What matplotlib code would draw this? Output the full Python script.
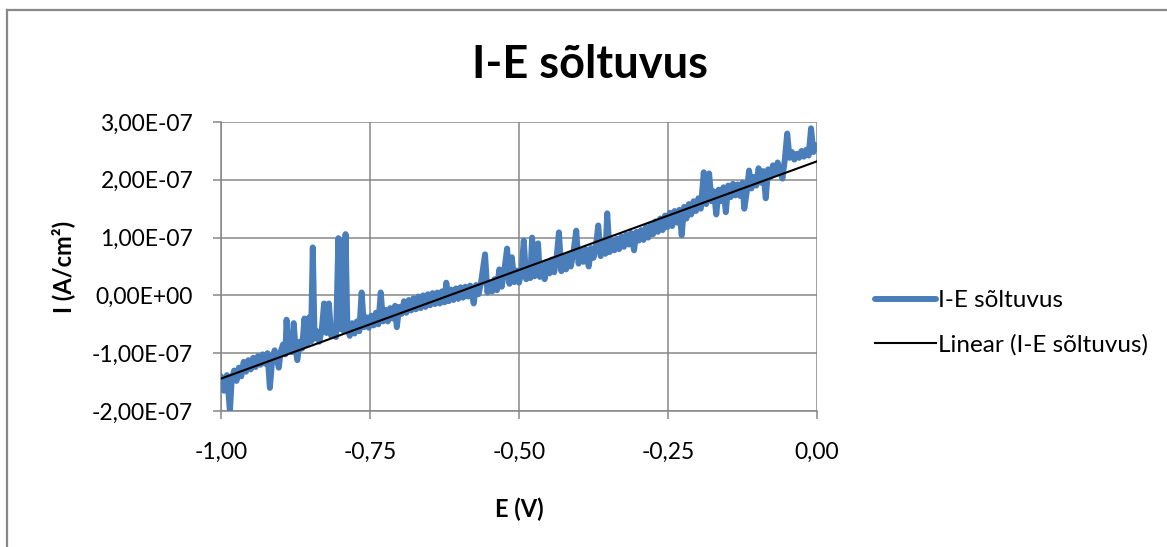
import numpy as np
import matplotlib
matplotlib.use("Agg")
import matplotlib.pyplot as plt
from matplotlib.ticker import FuncFormatter
from matplotlib.lines import Line2D

plt.rcParams['font.family'] = ['Lato', 'DejaVu Sans']

# potential E (V)
E = [-1.000, -0.995, -0.990, -0.985, -0.982, -0.978, -0.974, -0.970, -0.966, -0.962,
     -0.958, -0.954, -0.950, -0.946, -0.942, -0.938, -0.934, -0.930, -0.926, -0.922,
     -0.918, -0.914, -0.910, -0.906, -0.903, -0.900, -0.896, -0.892, -0.890, -0.887,
     -0.884, -0.881, -0.878, -0.875, -0.872, -0.868, -0.864, -0.860, -0.856, -0.852,
     -0.849, -0.846, -0.843, -0.839, -0.835, -0.831, -0.827, -0.823, -0.819, -0.815,
     -0.811, -0.807, -0.803, -0.800, -0.797, -0.794, -0.791, -0.788, -0.784, -0.780,
     -0.776, -0.772, -0.768, -0.764, -0.760, -0.756, -0.752, -0.748, -0.744, -0.740,
     -0.736, -0.732, -0.728, -0.724, -0.720, -0.716, -0.712, -0.708, -0.705, -0.701,
     -0.697, -0.693, -0.689, -0.685, -0.681, -0.677, -0.673, -0.669, -0.665, -0.661,
     -0.657, -0.653, -0.649, -0.645, -0.641, -0.637, -0.633, -0.629, -0.625, -0.622,
     -0.618, -0.614, -0.610, -0.606, -0.602, -0.598, -0.594, -0.590, -0.586, -0.582,
     -0.576, -0.572, -0.568, -0.564, -0.557, -0.553, -0.549, -0.545, -0.541, -0.537,
     -0.533, -0.529, -0.525, -0.520, -0.516, -0.512, -0.508, -0.504, -0.500, -0.496,
     -0.492, -0.488, -0.484, -0.481, -0.478, -0.474, -0.470, -0.468, -0.465, -0.461,
     -0.457, -0.453, -0.449, -0.445, -0.441, -0.437, -0.433, -0.429, -0.425, -0.421,
     -0.417, -0.413, -0.409, -0.404, -0.400, -0.396, -0.392, -0.388, -0.383, -0.379,
     -0.375, -0.371, -0.367, -0.363, -0.359, -0.355, -0.352, -0.348, -0.344, -0.340,
     -0.336, -0.332, -0.328, -0.324, -0.320, -0.316, -0.312, -0.307, -0.303, -0.299,
     -0.295, -0.291, -0.287, -0.283, -0.279, -0.275, -0.271, -0.267, -0.263, -0.259,
     -0.255, -0.251, -0.247, -0.243, -0.239, -0.235, -0.231, -0.227, -0.223, -0.219,
     -0.215, -0.211, -0.207, -0.203, -0.199, -0.195, -0.190, -0.186, -0.181, -0.177,
     -0.173, -0.169, -0.165, -0.161, -0.157, -0.153, -0.149, -0.145, -0.141, -0.137,
     -0.133, -0.129, -0.125, -0.122, -0.118, -0.114, -0.110, -0.106, -0.102, -0.098,
     -0.094, -0.090, -0.086, -0.082, -0.078, -0.074, -0.070, -0.066, -0.062, -0.058,
     -0.054, -0.050, -0.046, -0.042, -0.038, -0.034, -0.030, -0.026, -0.022, -0.018,
     -0.014, -0.010, -0.006, -0.003, 0.000]

# current density in units of 1e-7 A/cm2
I_e7 = [-1.40, -1.65, -1.38, -2.00, -1.45, -1.30, -1.48, -1.25, -1.40, -1.15,
        -1.32, -1.12, -1.28, -1.08, -1.24, -1.05, -1.20, -1.02, -1.18, -1.00,
        -1.60, -1.10, -0.95, -1.12, -1.25, -0.98, -0.85, -1.02, -0.42, -0.95,
        -0.82, -0.98, -0.48, -0.90, -1.12, -0.80, -0.92, -0.40, -0.85, -0.38,
        -0.80, 0.83, -0.75, -0.62, -0.80, -0.60, -0.14, -0.65, -0.14, -0.70,
        -0.55, -0.72, 0.99, -0.58, 0.95, -0.62, 1.06, -0.55, -0.70, -0.48,
        -0.66, -0.45, -0.62, 0.05, -0.55, -0.38, -0.56, -0.35, -0.52, -0.30,
        -0.50, 0.05, -0.45, -0.25, -0.45, -0.22, -0.40, -0.18, -0.55, -0.20,
        -0.32, -0.10, -0.30, -0.08, -0.26, -0.05, -0.24, -0.02, -0.22, 0.00,
        -0.20, 0.02, -0.17, 0.04, -0.15, 0.05, -0.14, 0.07, -0.12, 0.22,
        -0.10, 0.10, -0.08, 0.12, -0.06, 0.14, -0.04, 0.15, -0.02, 0.17,
        -0.14, 0.18, 0.02, 0.20, 0.71, 0.05, 0.22, 0.07, 0.28, 0.09,
        0.45, 0.15, 0.40, 0.81, 0.20, 0.66, 0.23, 0.43, 0.22, 0.41,
        0.95, 0.28, 0.48, 0.30, 1.00, 0.33, 0.50, 0.90, 0.32, 0.53,
        0.28, 0.58, 0.38, 0.62, 0.40, 0.65, 1.09, 0.42, 0.68, 0.45,
        0.70, 0.50, 0.72, 1.12, 0.55, 0.78, 0.58, 0.80, 0.50, 0.82,
        0.65, 0.85, 1.21, 0.68, 0.90, 0.72, 1.42, 0.75, 0.95, 0.78,
        0.98, 0.80, 1.02, 0.84, 1.05, 0.88, 1.08, 0.78, 1.10, 0.95,
        1.13, 0.96, 1.18, 1.00, 1.23, 1.06, 1.28, 1.10, 1.33, 1.13,
        1.38, 1.18, 1.43, 1.20, 1.46, 1.26, 1.48, 1.04, 1.53, 1.33,
        1.58, 1.40, 1.63, 1.46, 1.68, 1.50, 2.13, 1.58, 2.11, 1.63,
        1.80, 1.40, 1.83, 1.63, 1.87, 1.44, 1.90, 1.70, 1.93, 1.73,
        1.92, 1.72, 1.95, 1.50, 1.78, 2.16, 1.85, 2.05, 1.90, 2.20,
        1.95, 2.15, 1.68, 2.18, 2.05, 2.25, 2.10, 2.30, 2.15, 2.02,
        2.35, 2.80, 2.38, 2.48, 2.35, 2.45, 2.38, 2.50, 2.40, 2.52,
        2.42, 2.89, 2.48, 2.60, 2.55]

# Excel linear trendline, end values (1e-7 A/cm2)
trend_E = [-1.0, 0.0]
trend_I_e7 = [-1.44, 2.32]

x_ticks = [-1.0, -0.75, -0.5, -0.25, 0.0]
y_ticks = [-2e-7, -1e-7, 0.0, 1e-7, 2e-7, 3e-7]

title = "I-E sõltuvus"
series_label = "I-E sõltuvus"
trend_label = "Linear (I-E sõltuvus)"

E = np.array(E)
I = np.array(I_e7) * 1e-7
trend_I = np.array(trend_I_e7) * 1e-7

W, H = 1167, 547
fig = plt.figure(figsize=(W / 100, H / 100), dpi=100)
ax = fig.add_axes([221 / W, 1 - 411 / H, 596 / W, 289 / H])

grid_col = "#878787"
blue = "#4A7EBB"

ax.plot(E, I, color=blue, lw=4.3, solid_joinstyle="round", solid_capstyle="round",
        label=series_label, zorder=3)
ax.plot(trend_E, trend_I, color="black", lw=1.5, label=trend_label, zorder=4)

ax.set_xlim(-1.0, 0.0)
ax.set_ylim(-2e-7, 3e-7)
ax.set_xticks(x_ticks)
ax.set_yticks(y_ticks)
ax.xaxis.set_major_formatter(FuncFormatter(lambda v, p: f"{v:.2f}".replace(".", ",")))
ax.yaxis.set_major_formatter(FuncFormatter(lambda v, p: f"{v:.2E}".replace(".", ",")))
ax.grid(True, color=grid_col, lw=1.1)
ax.set_axisbelow(True)
for s in ax.spines.values():
    s.set_visible(False)
for side in ["left", "bottom"]:
    ax.spines[side].set_visible(True)
    ax.spines[side].set_color(grid_col)
    ax.spines[side].set_linewidth(1.1)
ax.tick_params(axis="both", direction="out", length=6, width=1.1, color=grid_col,
               labelsize=16.5, labelcolor="black")
ax.tick_params(axis="y", pad=14)
ax.tick_params(axis="x", pad=16)

ax.set_xlabel("E (V)", fontsize=17, fontweight="bold", labelpad=25)
ax.set_ylabel("I (A/cm²)", fontsize=17, fontweight="bold", labelpad=12)

fig.text(590 / W, 1 - 65 / H, title, ha="center", va="center", fontsize=32.5,
         fontweight="bold")

ax.legend(loc="center left", bbox_to_anchor=(853 / W, 1 - 323 / H),
          bbox_transform=fig.transFigure, frameon=False, fontsize=17.5,
          handlelength=2.5, handletextpad=0.1, labelspacing=0.95)

# chart border (only top and left visible in the crop)
fig.add_artist(Line2D([6.5 / W, 6.5 / W], [0, 1 - 9.5 / H], color="#888888", lw=1.6,
                      transform=fig.transFigure))
fig.add_artist(Line2D([6.5 / W, 1], [1 - 9.5 / H, 1 - 9.5 / H], color="#888888", lw=1.6,
                      transform=fig.transFigure))

fig.savefig("out.png", dpi=100)
